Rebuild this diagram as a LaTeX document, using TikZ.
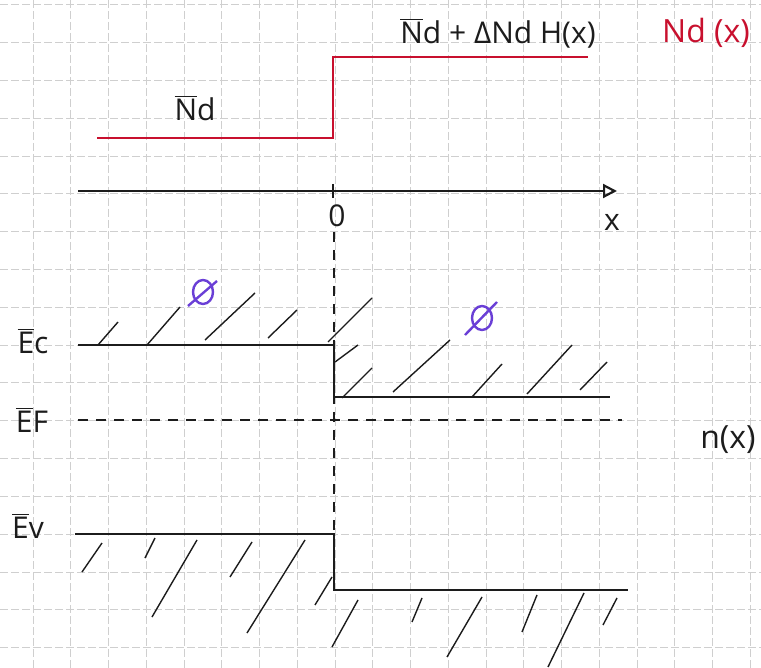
\documentclass[tikz,border=0pt]{standalone}
\usepackage{fontspec}
\setmainfont{Open Sans}
\usetikzlibrary{arrows.meta}
\definecolor{ink}{HTML}{1C1C1C}
\definecolor{crimson}{HTML}{C8102E}
\definecolor{phicol}{HTML}{6A3FD6}
\definecolor{gridline}{HTML}{CFCFCF}
\newcommand{\ovl}[1]{$\overline{\hbox{#1}}$}

\begin{document}
\begin{tikzpicture}[x=0.5pt,y=-0.5pt,every node/.style={font=\fontsize{15}{17}\selectfont,inner sep=1pt,ink},
      level/.style={line width=1.1pt,ink},
      donor/.style={line width=1.4pt,crimson},
      hatch/.style={line width=0.7pt,ink},
      fermi/.style={line width=1pt,ink,dash pattern=on 5pt off 4pt},
      phi/.style={line width=1.2pt,phicol},
      paper/.style={gridline,line width=0.5pt,dash pattern=on 4pt off 1.5pt}]
      \useasboundingbox (0,0) rectangle (761,668);
      \clip (0,0) rectangle (761,668);
      % graph paper
      \foreach \gx in {0,...,19} \draw[paper] ({33+37.75*\gx},0) -- ++(0,668);
      \foreach \gy in {0,...,17} \draw[paper] (0,{5+37.8*\gy}) -- ++(761,0);
      % donor profile
      \coordinate (ndlow) at (97,138); \coordinate (ndstep) at (333,138);
      \coordinate (ndtop) at (333,57); \coordinate (ndhigh) at (588,57);
      \draw[donor] (ndlow) -- (ndstep) -- (ndtop) -- (ndhigh);
      \node (nd) at (195,108) {\ovl{N}d};
      \node (ndsum) at (498,33) {\ovl{N}d + ΔNd H(x)};
      \node[text=crimson,font=\fontsize{16}{18}\selectfont] (ndx) at (706,33) {Nd (x)};
      % axis
      \coordinate (axl) at (78,191); \coordinate (axr) at (617,191);
      \coordinate (jtop) at (334,232); \coordinate (jbot) at (334,590);
      \draw[level,-{Triangle[open,length=7pt,width=7pt]}] (axl) -- (axr);
      \draw[level] (333,184) -- (333,198);
      \node (zero) at (337,216) {0};
      \node (xlab) at (612,222) {x};
      \draw[fermi] (jtop) -- (jbot);
      % bands
      \coordinate (ecl) at (78,345); \coordinate (ecs) at (334,345);
      \coordinate (ecd) at (334,397); \coordinate (ecr) at (610,397);
      \draw[level] (ecl) -- (ecs) -- (ecd) -- (ecr);
      \coordinate (efl) at (78,420); \coordinate (efr) at (622,420);
      \draw[fermi] (efl) -- (efr);
      \coordinate (evl) at (75,534); \coordinate (evs) at (334,534);
      \coordinate (evd) at (334,590); \coordinate (evr) at (628,590);
      \draw[level] (evl) -- (evs) -- (evd) -- (evr);
      \node (ec) at (33,341) {\ovl{E}c};
      \node (ef) at (32,420) {\ovl{E}F};
      \node (ev) at (28,526) {\ovl{E}v};
      \node[anchor=east,font=\fontsize{16}{18}\selectfont] (nx) at (758,440) {n(x)};
      % hatching
      \foreach \xa/\ya/\xb/\yb in {98/345/118/322,147/345/180/307,205/340/255/293,268/338/297/310,
            328/342/372/298,335/362/358/345,342/398/372/368,393/392/450/340,472/397/502/364,
            527/394/572/345,580/390/607/362,102/543/82/572,155/538/145/558,197/540/152/617,
            252/542/230/577,305/540/247/633,332/577/315/605,358/600/332/647,422/598/412/622,
            482/597/447/657,537/595/522/632,584/593/548/667,617/598/603/625}
        \draw[hatch] (\xa,\ya) -- (\xb,\yb);
      % work function marks
      \coordinate (phia) at (203,292); \coordinate (phib) at (482,318);
      \draw[phi] (phia) ellipse (10 and 12); \draw[phi] (phia) ++(-15,14) -- ++(29,-25);
      \draw[phi] (phib) ellipse (10 and 12); \draw[phi] (phib) ++(-17,17) -- ++(32,-33);
\end{tikzpicture}
\end{document}
